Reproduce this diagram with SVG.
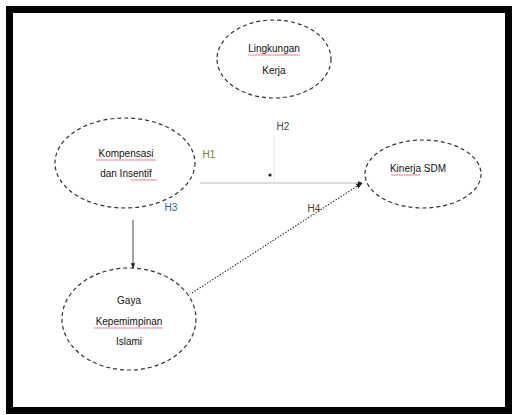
<svg xmlns="http://www.w3.org/2000/svg" width="513" height="415" viewBox="0 0 513 415">
<style>
.node ellipse{fill:#fff;stroke:#333;stroke-width:1.2;stroke-dasharray:4 3}
.t{font-family:"Liberation Sans",Arial,sans-serif;font-size:10px;fill:#111;text-anchor:middle}
.lbl{font-family:"Liberation Sans",Arial,sans-serif;font-size:10px;text-anchor:middle}
.sq{stroke:#e06070;stroke-width:0.8}
</style>
<defs>
<marker id="ah" viewBox="0 0 10 10" refX="9" refY="5" markerWidth="6" markerHeight="6" orient="auto-start-reverse">
<path d="M0,1 L10,5 L0,9 z" fill="#222"/>
</marker>
</defs>
<rect x="0" y="0" width="513" height="415" fill="#fff"/>
<rect x="9.5" y="9.5" width="499" height="401" fill="#fff" stroke="#000" stroke-width="7"/>

<g id="connectors">
<line x1="200" y1="183" x2="362" y2="183" stroke="#aaa" stroke-width="0.8" marker-end="url(#ah)"/>
<line x1="274" y1="136" x2="274" y2="182" stroke="#e4e4e4" stroke-width="0.8"/>
<circle cx="270" cy="175" r="1.6" fill="#222"/>
<line x1="133" y1="220" x2="133" y2="268" stroke="#333" stroke-width="0.9" marker-end="url(#ah)"/>
<line x1="192" y1="293" x2="362" y2="183" stroke="#333" stroke-width="1.1" stroke-dasharray="1.5 1.5" marker-end="url(#ah)"/>
</g>

<g id="lingkungan-kerja" class="node">
<ellipse cx="274" cy="59" rx="57" ry="39"/>
<text class="t" x="274" y="52">Lingkungan</text>
<line class="sq" x1="248" y1="55" x2="300" y2="55"/>
<text class="t" x="274" y="74">Kerja</text>
</g>

<g id="kompensasi" class="node">
<ellipse cx="125" cy="163" rx="70" ry="45"/>
<text class="t" x="126" y="157">Kompensasi</text>
<line class="sq" x1="96" y1="160" x2="156" y2="160"/>
<text class="t" x="126" y="177">dan Insentif</text>
<line class="sq" x1="131" y1="180" x2="157" y2="180"/>
</g>

<g id="kinerja-sdm" class="node">
<ellipse cx="423" cy="174" rx="58" ry="34"/>
<text class="t" x="418" y="172">Kinerja SDM</text>
<line class="sq" x1="391" y1="175" x2="420" y2="175"/>
</g>

<g id="gaya-kepemimpinan" class="node">
<ellipse cx="129" cy="319" rx="67" ry="51"/>
<text class="t" x="129" y="304">Gaya</text>
<text class="t" x="129" y="325">Kepemimpinan</text>
<line class="sq" x1="94" y1="328" x2="163" y2="328"/>
<text class="t" x="129" y="345">Islami</text>
</g>

<g id="labels">
<text class="lbl" x="209" y="158" fill="#7a7a30">H1</text>
<text class="lbl" x="283" y="130" fill="#444">H2</text>
<text class="lbl" x="171" y="211" fill="#2f5f9a">H3</text>
<text class="lbl" x="314" y="212" fill="#5a3a1a">H4</text>
</g>
</svg>
